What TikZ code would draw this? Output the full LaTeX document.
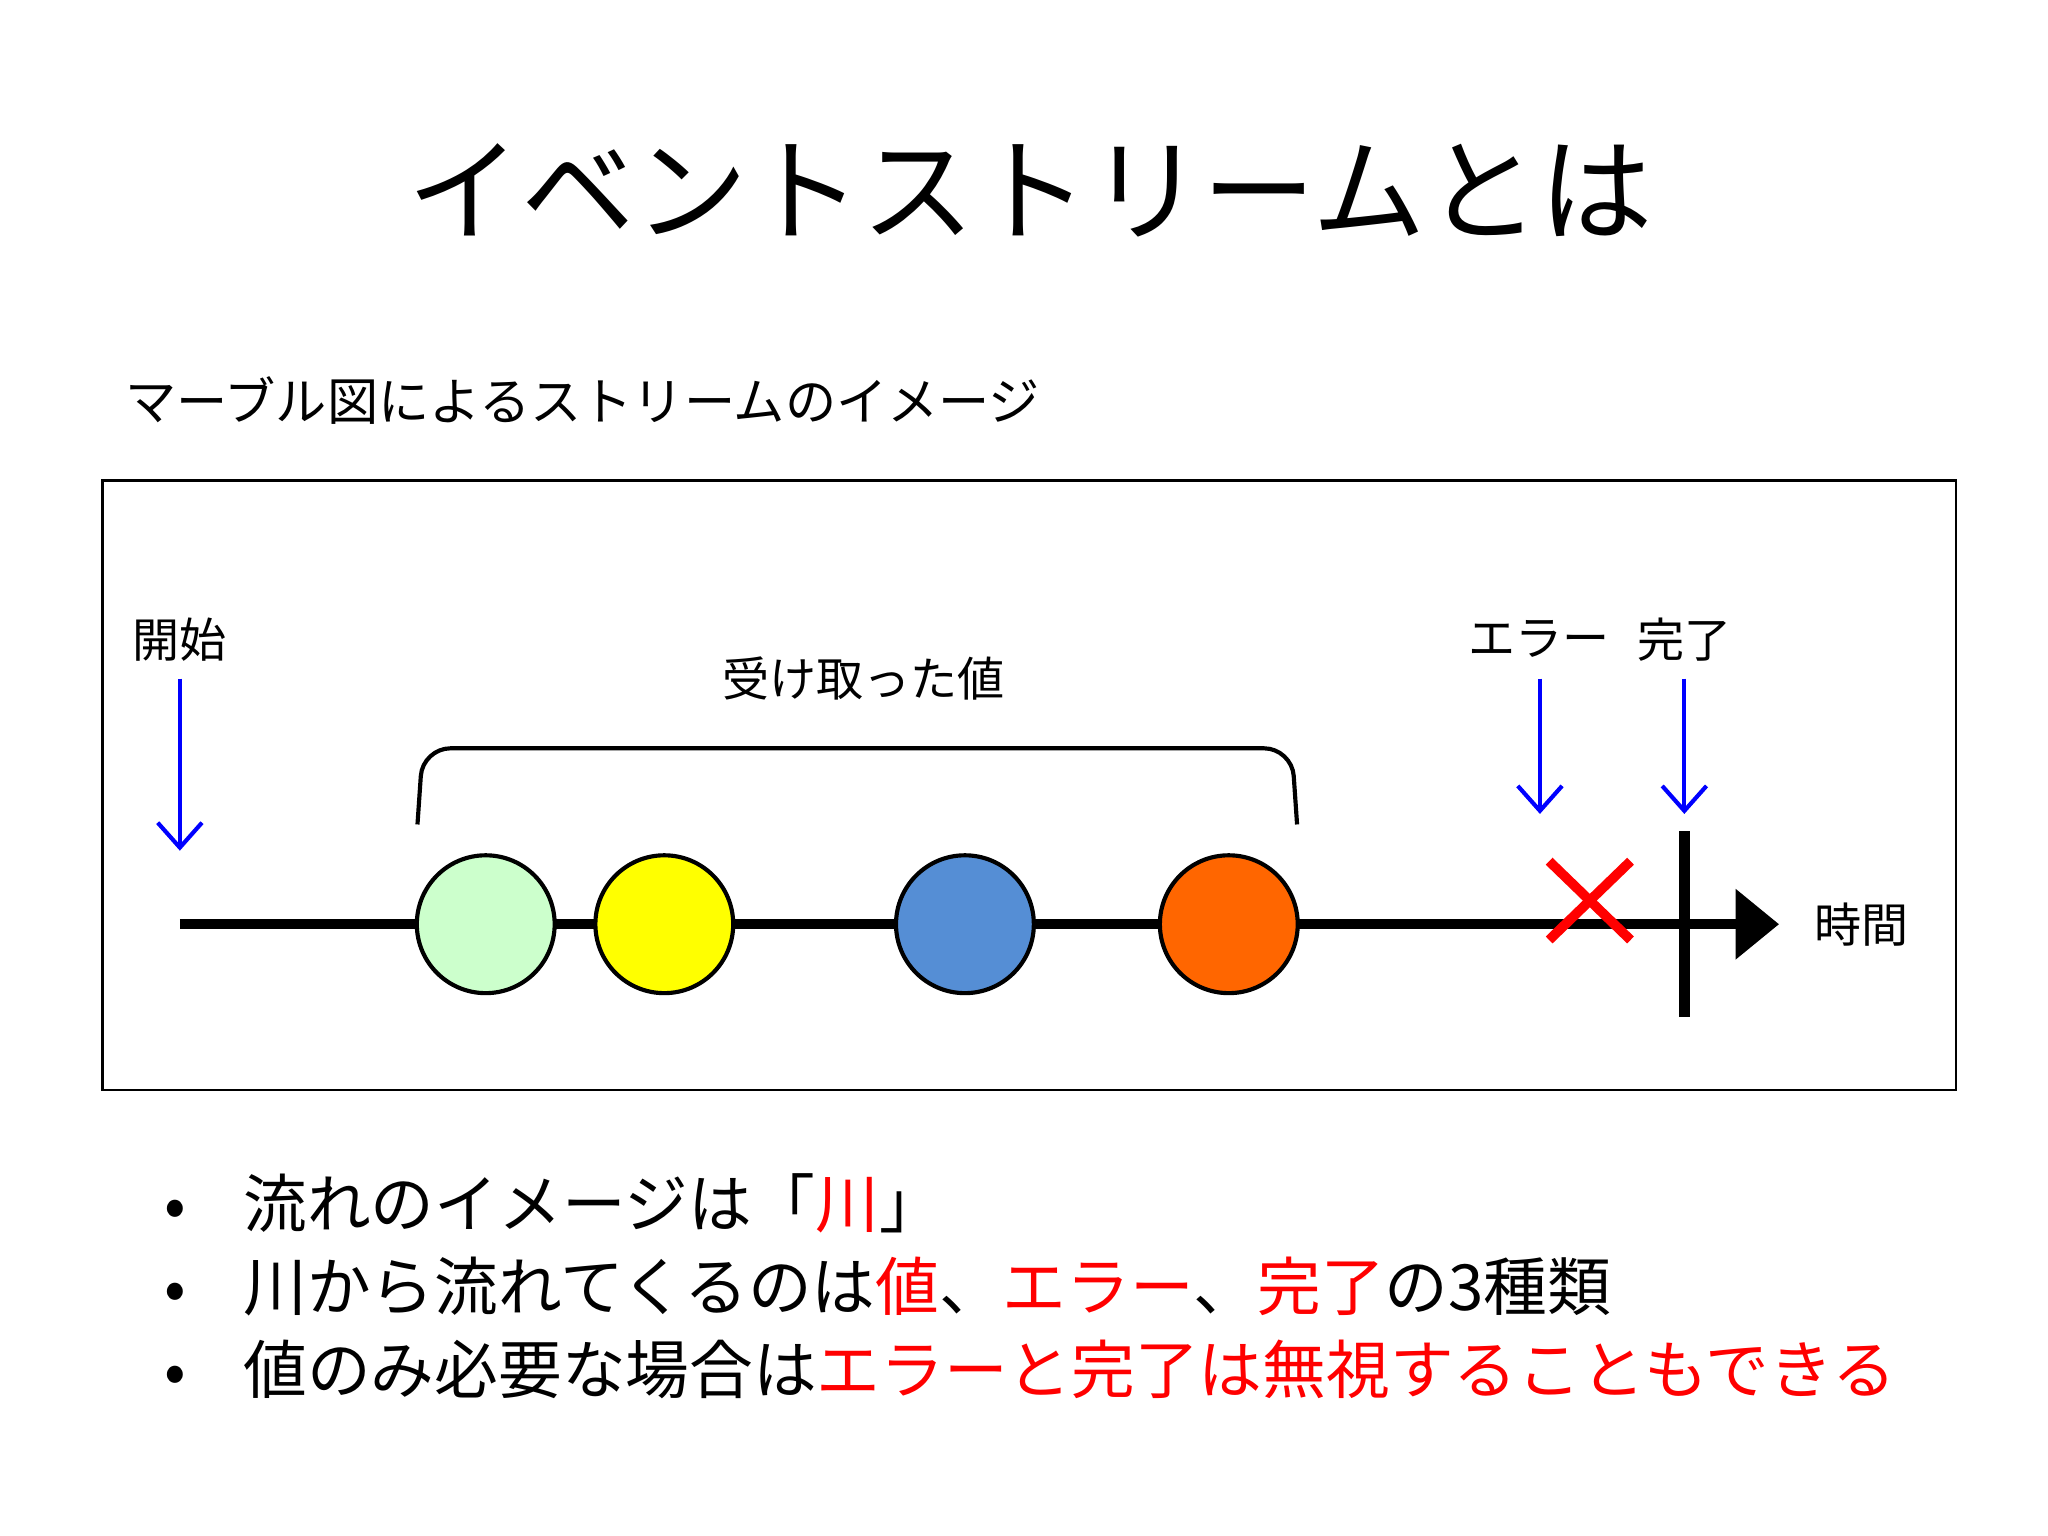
\documentclass[tikz,border=0pt]{standalone}
\usepackage{fontspec}
\setmainfont{Noto Sans CJK JP}
\usetikzlibrary{arrows.meta}
\definecolor{cgreen}{HTML}{CCFFCC}
\definecolor{cyellow}{HTML}{FFFF00}
\definecolor{cblue}{HTML}{558ED5}
\definecolor{corange}{HTML}{FF6600}
\definecolor{cred}{HTML}{FF0000}
\begin{document}
\begin{tikzpicture}[x=0.016667cm,y=-0.016667cm,
  marble/.style={circle,draw=black,line width=1.5pt,minimum size=105*0.016667cm,inner sep=0pt},
  lbl/.style={font=\fontsize{17}{20}\selectfont,inner sep=0pt},
  bluearrow/.style={draw=blue,line width=1.5pt,-{Straight Barb[length=9pt,width=16pt]}},
  bul/.style={font=\fontsize{23}{28}\selectfont,anchor=west,inner sep=0pt}]
\useasboundingbox (0,0) rectangle (1560,1170);
\node[font=\fontsize{41}{48}\selectfont] (title) at (785,145) {イベントストリームとは};
\node[font=\fontsize{18.5}{22}\selectfont,anchor=west,inner sep=0pt] (sub) at (95,305) {マーブル図によるストリームのイメージ};
\draw[line width=0.8pt] (78,366) rectangle (1490,830);
% timeline
\coordinate (ls) at (137,704);
\coordinate (le) at (1325,704);
\draw[line width=3.8pt] (ls) -- (le);
\fill (1322,677) -- (1355,704) -- (1322,731) -- cycle;
\node[marble,fill=cgreen] (m1) at (370,704) {};
\node[marble,fill=cyellow] (m2) at (506,704) {};
\node[marble,fill=cblue] (m3) at (735,704) {};
\node[marble,fill=corange] (m4) at (936,704) {};
% brace
\draw[line width=1.5pt,rounded corners=10pt] (318,628) -- (322,570) -- (984,570) -- (988,628);
\node[lbl] (vals) at (658,517) {受け取った値};
% start
\node[lbl] (start) at (137,487) {開始};
\coordinate (sa) at (137,517);
\coordinate (sb) at (137,648);
\draw[bluearrow] (sa) -- (sb);
% error
\node[lbl] (err) at (1172,487) {エラー};
\coordinate (ea) at (1173,517);
\coordinate (eb) at (1173,620);
\draw[bluearrow] (ea) -- (eb);
\draw[cred,line width=3.5pt] (1180,656) -- (1242,716) (1242,656) -- (1180,716);
% complete
\node[lbl] (done) at (1283,487) {完了};
\coordinate (ca) at (1283,517);
\coordinate (cb) at (1283,620);
\draw[bluearrow] (ca) -- (cb);
\draw[line width=3.8pt] (1283,633) -- (1283,775);
\node[lbl] (time) at (1418,704) {時間};
% bullets
\node[bul] (b1) at (125,917) {•\hspace{0.9em}流れのイメージは「\textcolor{cred}{川}」};
\node[bul] (b2) at (125,980) {•\hspace{0.9em}川から流れてくるのは\textcolor{cred}{値}、\textcolor{cred}{エラー}、\textcolor{cred}{完了}の3種類};
\node[bul] (b3) at (125,1043) {•\hspace{0.9em}値のみ必要な場合は\textcolor{cred}{エラーと完了は無視することもできる}};
\end{tikzpicture}
\end{document}
